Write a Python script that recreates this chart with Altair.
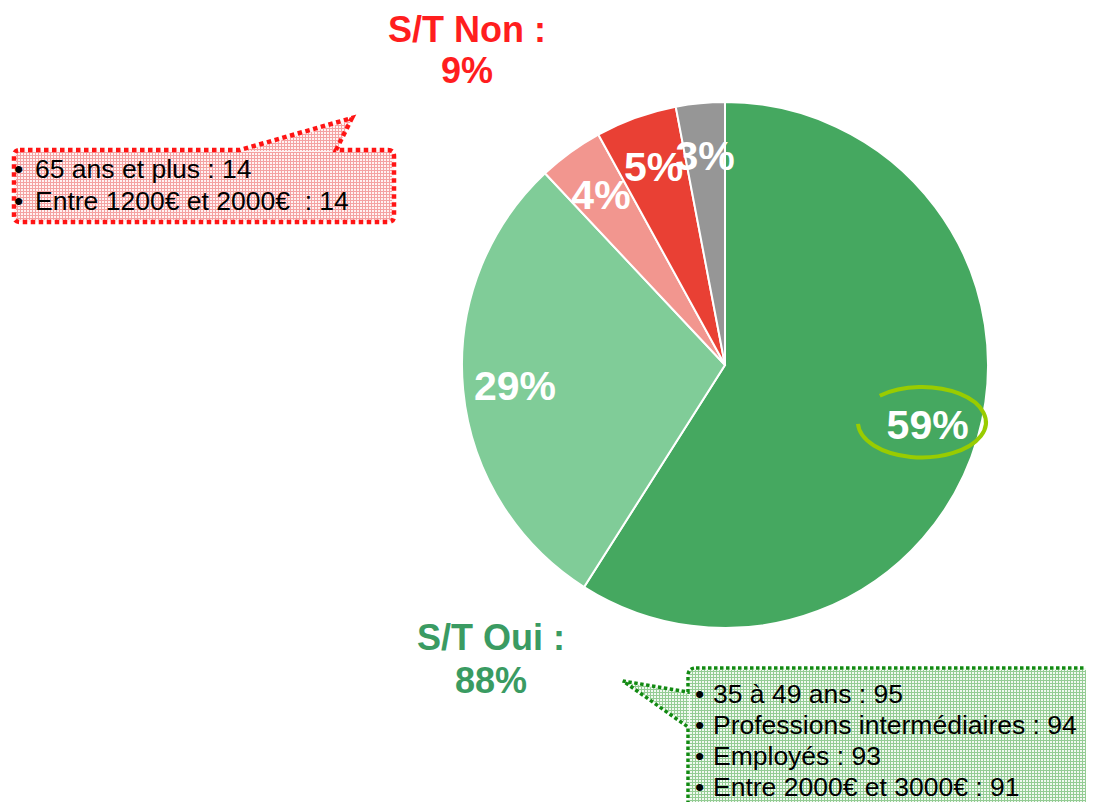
import altair as alt
import pandas as pd

# ---- data ----
categories = ["Oui, tout à fait", "Oui, plutôt", "Non, plutôt pas", "Non, pas du tout", "Ne se prononce pas"]
values = [59, 29, 4, 5, 3]
slice_labels = ["59%", "29%", "4%", "5%", "3%"]
slice_order = [1, 2, 3, 4, 5]
slice_colors = ["#45A860", "#80CC98", "#F2968F", "#E94034", "#969696"]

non_title = ["S/T Non :", "9%"]
oui_title = ["S/T Oui :", "88%"]
non_lines = ["65 ans et plus : 14", "Entre 1200€ et 2000€\u00a0 : 14"]
oui_lines = ["35 à 49 ans : 95", "Professions intermédiaires : 94", "Employés : 93", "Entre 2000€ et 3000€ : 91"]

df = pd.DataFrame({"category": categories, "value": values, "label": slice_labels, "rank": slice_order})
one = pd.DataFrame({"k": [0]})

FONT = "Liberation Sans, Arial, sans-serif"
CX, CY, R = 717, 357, 263


# ---- callout decoration helpers (custom symbol paths in pixel units: size=4 -> scale 1) ----
def grid_path(polys, step=3):
    segs = []
    for poly in polys:
        n = len(poly)
        edges = [(poly[i], poly[(i + 1) % n]) for i in range(n)]
        xs = [p[0] for p in poly]
        ys = [p[1] for p in poly]
        y = (int(min(ys)) // step) * step + 0.5
        while y <= max(ys):
            hits = []
            for (x1, y1), (x2, y2) in edges:
                if y1 != y2 and min(y1, y2) <= y <= max(y1, y2):
                    hits.append(x1 + (y - y1) * (x2 - x1) / (y2 - y1))
            if len(hits) >= 2 and max(hits) - min(hits) > 0.5:
                segs.append(f"M {min(hits):.2f} {y} L {max(hits):.2f} {y}")
            y += step
        x = (int(min(xs)) // step) * step + 0.5
        while x <= max(xs):
            hits = []
            for (x1, y1), (x2, y2) in edges:
                if x1 != x2 and min(x1, x2) <= x <= max(x1, x2):
                    hits.append(y1 + (x - x1) * (y2 - y1) / (x2 - x1))
            if len(hits) >= 2 and max(hits) - min(hits) > 0.5:
                segs.append(f"M {x} {min(hits):.2f} L {x} {max(hits):.2f}")
            x += step
    return " ".join(segs)


def shape_layer(path, **kw):
    return alt.Chart(one).mark_point(shape=path, size=4, opacity=1, **kw).encode(
        x=alt.value(0), y=alt.value(0))


red_path = ("M 12 142 L 232 142 L 344 110 L 328 142 L 380 142 Q 386 142 386 148 "
            "L 386 208 Q 386 214 380 214 L 12 214 Q 6 214 6 208 L 6 148 Q 6 142 12 142 Z")
red_grid = grid_path([[(8, 144), (384, 144), (384, 212), (8, 212)],
                      [(236, 143), (343, 113), (328, 143)]])
green_path = ("M 688 660 L 1100 660 L 1100 810 L 680 810 L 680 719 L 615 673 "
              "L 680 684 L 680 668 Q 680 660 688 660 Z")
green_grid = grid_path([[(682, 662), (1080, 662), (1080, 800), (682, 800)],
                        [(681, 717), (619, 675), (681, 686)]])

red_fill = shape_layer(red_path, filled=True, fill="#FFF2F2", strokeWidth=0, fillOpacity=1)
red_gr = shape_layer(red_grid, filled=False, stroke="#F4A2A2", strokeWidth=1, strokeOpacity=1)
red_border = shape_layer(red_path, filled=False, stroke="#FF1414", strokeWidth=4.5,
                         strokeDash=[4.5, 3.5], strokeOpacity=1)

green_fill = shape_layer(green_path, filled=True, fill="#F1F9F1", strokeWidth=0, fillOpacity=1)
green_gr = shape_layer(green_grid, filled=False, stroke="#94CC94", strokeWidth=1, strokeOpacity=1)
green_border = shape_layer(green_path, filled=False, stroke="#128A12", strokeWidth=3.5,
                           strokeDash=[3.5, 2.5], strokeOpacity=1)

BOX_FONT = FONT
BOX_SIZE = 26.5
red_bul = alt.Chart(one).mark_text(
    text=["•"] * len(non_lines), align="left", baseline="alphabetic", font=BOX_FONT,
    fontSize=BOX_SIZE, lineHeight=32, color="black"
).encode(x=alt.value(6), y=alt.value(170))
red_txt = alt.Chart(one).mark_text(
    text=non_lines, align="left", baseline="alphabetic", font=BOX_FONT,
    fontSize=BOX_SIZE, lineHeight=32, color="black"
).encode(x=alt.value(27), y=alt.value(170))

green_bul = alt.Chart(one).mark_text(
    text=["•"] * len(oui_lines), align="left", baseline="alphabetic", font=BOX_FONT,
    fontSize=BOX_SIZE, lineHeight=31, color="black"
).encode(x=alt.value(687), y=alt.value(695))
green_txt = alt.Chart(one).mark_text(
    text=oui_lines, align="left", baseline="alphabetic", font=BOX_FONT,
    fontSize=BOX_SIZE, lineHeight=31, color="black"
).encode(x=alt.value(705), y=alt.value(695))

# ---- pie ----
base = alt.Chart(df).encode(
    theta=alt.Theta("value:Q", stack=True),
    order=alt.Order("rank:Q", sort="ascending"),
)
arcs = base.mark_arc(outerRadius=R, stroke="white", strokeWidth=2).encode(
    x=alt.value(CX), y=alt.value(CY),
    color=alt.Color("category:N", scale=alt.Scale(domain=categories, range=slice_colors), legend=None),
)
labels = base.mark_text(
    radius=211, font=FONT, fontSize=41, fontWeight="bold", color="white",
    align="center", baseline="middle", dy=3
).encode(x=alt.value(CX), y=alt.value(CY), text="label:N")

ellipse = alt.Chart(one).mark_point(
    shape="M -1 0.03 A 1 0.55 0 1 0 -0.66 -0.41", size=16384, filled=False,
    stroke="#99CC00", strokeWidth=4, opacity=1, strokeOpacity=1
).encode(x=alt.value(914), y=alt.value(414))

# ---- titles ----
non_t = alt.Chart(one).mark_text(
    text=non_title, align="center", baseline="alphabetic", font=FONT, fontSize=36,
    fontWeight="bold", lineHeight=41, color="#FF1E1E"
).encode(x=alt.value(459), y=alt.value(34))
oui_t = alt.Chart(one).mark_text(
    text=oui_title, align="center", baseline="alphabetic", font=FONT, fontSize=36,
    fontWeight="bold", lineHeight=43, color="#3A9B62"
).encode(x=alt.value(483), y=alt.value(642))

chart = alt.layer(
    red_fill, red_gr, red_border, green_fill, green_gr, green_border,
    red_bul, red_txt, green_bul, green_txt,
    arcs, labels, ellipse, non_t, oui_t
).properties(
    width=1078, height=794, padding=0, autosize=alt.AutoSizeParams(type="none"),
    background="white"
).configure_view(stroke=None)

chart.save("out.html", embed_options={"renderer": "svg", "actions": False})
